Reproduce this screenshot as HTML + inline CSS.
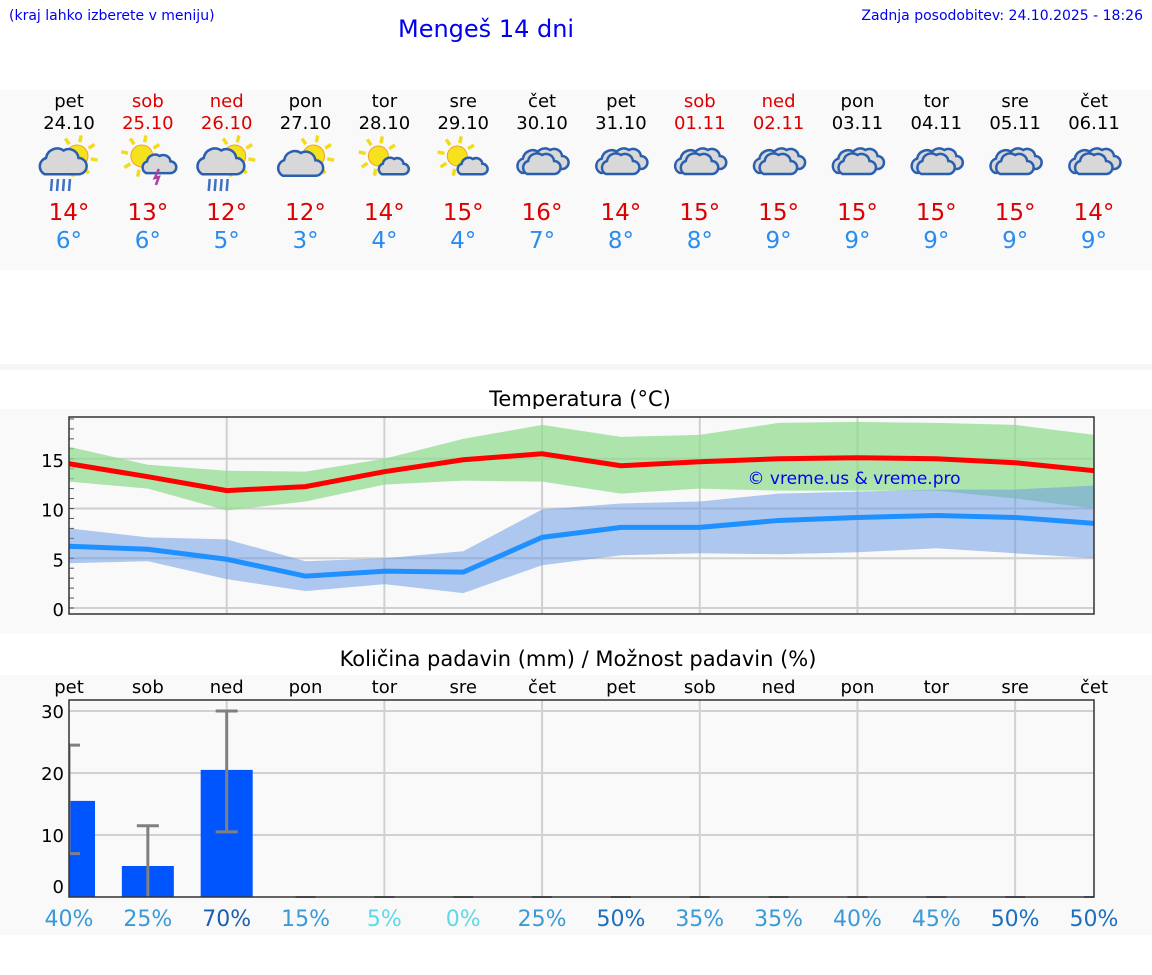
<!DOCTYPE html>
<html><head><meta charset="utf-8">
<style>
body{margin:0;width:1152px;height:975px;background:#fff;font-family:"DejaVu Sans","Liberation Sans",sans-serif;position:relative;overflow:hidden}
.abs{position:absolute}
</style></head><body>
<div class="abs" style="left:9px;top:8px;font-size:14px;color:#0000ee">(kraj lahko izberete v meniju)</div>
<div class="abs" style="left:398px;top:15px;font-size:24px;color:#0000ee">Mengeš 14 dni</div>
<div class="abs" style="right:9px;top:8px;font-size:14px;color:#0000ee">Zadnja posodobitev: 24.10.2025 - 18:26</div>
<div class="abs" style="left:0;top:90px;width:1152px;height:180px;background:#f9f9f9"></div>
<div class="abs" style="left:0;top:364px;width:1152px;height:6px;background:#f6f6f6"></div>
<div class="abs" style="left:0;width:1160px;text-align:center;top:387px;font-size:21px;color:#000">Temperatura (°C)</div>
<div class="abs" style="left:0;width:1156px;text-align:center;top:647px;font-size:21px;color:#000">Količina padavin (mm) / Možnost padavin (%)</div>
<svg class="abs" style="left:0;top:0" width="1152" height="975" id="svg"></svg>
<script>
const days=["pet","sob","ned","pon","tor","sre","čet","pet","sob","ned","pon","tor","sre","čet"];
const dates=["24.10","25.10","26.10","27.10","28.10","29.10","30.10","31.10","01.11","02.11","03.11","04.11","05.11","06.11"];
const weekend=[0,1,1,0,0,0,0,0,1,1,0,0,0,0];
const icons=["rain","storm","rain","cloudsun","smallcloud","smallcloud","cloud","cloud","cloud","cloud","cloud","cloud","cloud","cloud"];
const tmax=[14,13,12,12,14,15,16,14,15,15,15,15,15,14];
const tmin=[6,6,5,3,4,4,7,8,8,9,9,9,9,9];
const maxLine=[14.5,13.2,11.8,12.2,13.7,14.9,15.5,14.3,14.7,15.0,15.1,15.0,14.6,13.8];
const maxHi=[16.2,14.4,13.8,13.7,15.0,17.0,18.4,17.2,17.4,18.6,18.7,18.6,18.4,17.4];
const maxLo=[12.7,12.0,9.8,10.7,12.4,12.8,12.7,11.5,12.0,11.8,11.8,11.8,11.0,10.0];
const minLine=[6.2,5.9,4.9,3.2,3.7,3.6,7.1,8.1,8.1,8.8,9.1,9.3,9.1,8.5];
const minHi=[8.0,7.1,6.9,4.7,5.0,5.7,9.9,10.5,10.7,11.5,11.7,11.9,11.9,12.3];
const minLo=[4.5,4.7,2.9,1.7,2.4,1.5,4.3,5.3,5.5,5.4,5.6,6.0,5.5,5.0];
const tTicks=[0,5,10,15];
const precip=[15.5,5,20.5,0,0,0,0,0,0,0,0,0,0,0];
const errLo=[7,0,10.5,0,0,0,0,0,0,0,0,0,0,0];
const errHi=[24.5,11.5,30,0,0,0,0,0,0,0,0,0,0,0];
const pTicks=[0,10,20,30];
const prob=[40,25,70,15,5,0,25,50,35,35,40,45,50,50];

const S=document.getElementById('svg');const NS="http://www.w3.org/2000/svg";
function el(t,a,p){const e=document.createElementNS(NS,t);for(const k in a)e.setAttribute(k,a[k]);(p||S).appendChild(e);return e;}
function tx(x,y,s,size,fill,anchor){const e=el('text',{x:x,y:y,'font-size':size,fill:fill,'text-anchor':anchor||'middle','font-family':'DejaVu Sans, Liberation Sans, sans-serif'});e.textContent=s;return e;}
const X0=69,X1=1094;const dx=(X1-X0)/13;
const xd=i=>X0+i*dx;
const ty=v=>608-v*9.95;
const py=v=>897-v*6.2;

days.forEach((d,i)=>{
 const x=xd(i);const col=weekend[i]?'#dd0000':'#000';
 let e=tx(x,107,d,18,col);
 
 
 e=tx(x,129,dates[i],18,col);
 
 
 e=tx(x,220,tmax[i]+'°',23,'#dd0000');
 
 
 e=tx(x,248,tmin[i]+'°',23,'#2a8cf0');
 
 
 const g=el('g',{transform:`translate(${x},160)`});
 
 
 drawIcon(g,icons[i]);
});
function sun(g,cx,cy,r){for(let k=0;k<8;k++){const a=k*Math.PI/4+0.2;el('line',{x1:cx+Math.cos(a)*(r+3),y1:cy+Math.sin(a)*(r+3),x2:cx+Math.cos(a)*(r+10),y2:cy+Math.sin(a)*(r+10),stroke:'#f2dc1a','stroke-width':3.5},g);}
 el('circle',{cx:cx,cy:cy,r:r,fill:'#f6e21c',stroke:'#f0a030','stroke-width':1},g);}
function cloud(g,cx,cy,s){const p=el('g',{transform:`translate(${cx},${cy}) scale(${s})`},g);
 el('path',{d:'M-13,9 a7 7 0 0 1 1,-13 a9 9 0 0 1 14,-6 a8 8 0 0 1 12,6 a6 6 0 0 1 0,13 z',fill:'#d8d8d8',stroke:'#2a5fb0','stroke-width':2.5/s},p);}
function drawIcon(g,t){
 if(t=='cloud'){cloud(g,-6,3,1.1);cloud(g,6,0,1);cloud(g,-2,5,1);}
 else if(t=='rain'){sun(g,8,-4,11);cloud(g,-8,3,1.25);for(let k=0;k<4;k++)el('line',{x1:-17+k*6,y1:19,x2:-18+k*6,y2:31,stroke:'#4070c0','stroke-width':2.5},g);}
 else if(t=='storm'){sun(g,-6,-4,11);cloud(g,10,5,0.9);el('path',{d:'M11,9 L7,18 L11,17 L8,25',stroke:'#b040a0','stroke-width':2.5,fill:'none'},g);}
 else if(t=='cloudsun'){sun(g,8,-4,11);cloud(g,-7,5,1.2);}
 else {sun(g,-6,-4,10);cloud(g,8,7,0.8);}
}

const tp=el('g',{});
el('rect',{x:0,y:409,width:1152,height:225,fill:'#f9f9f9'},tp);
tTicks.forEach(v=>{el('line',{x1:X0,x2:X1,y1:ty(v),y2:ty(v),stroke:'#d0d0d0','stroke-width':2},tp);
 const e=tx(64,ty(v)+8,String(v),18,'#000','end');});
for(let v=0;v<=19;v++)el('line',{x1:X0,x2:X0+5,y1:ty(v),y2:ty(v),stroke:'#555','stroke-width':1},tp);
for(let i=2;i<13;i+=2)el('line',{x1:xd(i),x2:xd(i),y1:417,y2:614,stroke:'#d0d0d0','stroke-width':2},tp);
function band(hi,lo,fill,name){let d='';hi.forEach((v,i)=>d+=(i?'L':'M')+xd(i)+','+ty(v));for(let i=lo.length-1;i>=0;i--)d+='L'+xd(i)+','+ty(lo[i]);
 const e=el('path',{d:d+'Z',fill:fill},tp);}
function line(a,c,name){const e=el('polyline',{points:a.map((v,i)=>xd(i)+','+ty(v)).join(' '),fill:'none',stroke:c,'stroke-width':5},tp);}
band(maxHi,maxLo,'rgba(140,220,140,0.7)','max-temp-band');
band(minHi,minLo,'rgba(100,150,230,0.5)','min-temp-band');
line(maxLine,'#ff0000','max-temp-line');
line(minLine,'#1e90ff','min-temp-line');
el('rect',{x:X0,y:417,width:X1-X0,height:197,fill:'none',stroke:'#333','stroke-width':1.5},tp);
let c=tx(854,484,'© vreme.us & vreme.pro',17,'#0000ee');

const pp=el('g',{});
el('rect',{x:0,y:675,width:1152,height:260,fill:'#f9f9f9'},pp);
pTicks.forEach(v=>{if(v)el('line',{x1:X0,x2:X1,y1:py(v),y2:py(v),stroke:'#d0d0d0','stroke-width':2},pp);
 const e=tx(64,py(v)+(v?7:-4),String(v),18,'#000','end');});
for(let i=2;i<13;i+=2)el('line',{x1:xd(i),x2:xd(i),y1:700,y2:897,stroke:'#d0d0d0','stroke-width':2},pp);
days.forEach((d,i)=>{const e=tx(xd(i),693,d,18,'#000');});
const cp=el('clipPath',{id:'pc'},pp);el('rect',{x:X0,y:690,width:X1-X0,height:210},cp);
const bg=el('g',{'clip-path':'url(#pc)'},pp);
precip.forEach((v,i)=>{const x=xd(i);
 if(v>0){const b=el('rect',{x:x-26,y:py(v),width:52,height:py(0)-py(v),fill:'#0055ff'},bg);
  el('line',{x1:x,x2:x,y1:py(errLo[i]),y2:py(errHi[i]),stroke:'#808080','stroke-width':3},bg);
  [errLo[i],errHi[i]].forEach(v2=>{if(v2>0)el('line',{x1:x-11,x2:x+11,y1:py(v2),y2:py(v2),stroke:'#808080','stroke-width':3},bg);});
 } else el('line',{x1:x-10,x2:x+10,y1:py(0),y2:py(0),stroke:'#808080','stroke-width':2},bg);
 const pc=prob[i];const col=pc>=50?'#1a6fc0':pc<=5?'#5fd8e8':'#3a9ad8';
 const e=tx(x,926,pc+'%',22,pc>=70?'#1a5fb0':col);});
el('rect',{x:X0,y:700,width:X1-X0,height:197,fill:'none',stroke:'#333','stroke-width':1.5},pp);
</script>
</body></html>
